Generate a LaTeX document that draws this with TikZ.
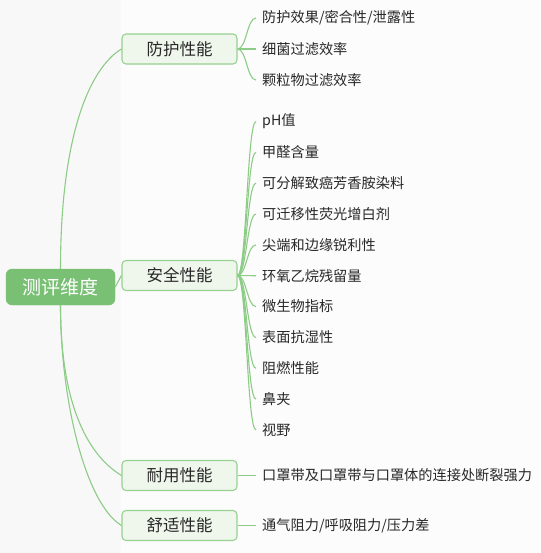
\documentclass[tikz,border=0pt]{standalone}
\usepackage{fontspec}
\setmainfont{Noto Sans CJK SC}
\usetikzlibrary{calc}
\definecolor{lineg}{RGB}{140,204,134}
\definecolor{rootg}{RGB}{121,192,117}
\definecolor{boxfill}{RGB}{239,247,236}
\definecolor{boxline}{RGB}{150,210,144}
\definecolor{txt}{RGB}{40,40,40}
\definecolor{bgL}{RGB}{248,248,248}
\definecolor{bgR}{RGB}{252,252,252}
\tikzset{
  rootbox/.style={fill=rootg, draw=rootg, rounded corners=6pt, minimum width=109pt, minimum height=36pt, inner sep=0pt, text=white, font=\fontsize{19}{22}\selectfont},
  branchbox/.style={fill=boxfill, draw=boxline, line width=1.1pt, rounded corners=4pt, minimum width=115pt, minimum height=30pt, inner sep=0pt, text=txt, font=\fontsize{16.5}{19}\selectfont},
  leaf/.style={anchor=west, inner xsep=6pt, inner ysep=0pt, text=txt, font=\fontsize{14.2}{17}\selectfont},
  conn/.style={draw=lineg, line width=1.1pt}
}
\begin{document}
\begin{tikzpicture}[x=1pt,y=-1pt]
\fill[bgL] (0,0) rectangle (121,553);
\fill[bgR] (121,0) rectangle (540,553);
\useasboundingbox (0,0) rectangle (540,553);

\node[rootbox] (root) at (60.5,287) {测评维度};
\node[branchbox] (b1) at (179.5,49) {防护性能};
\node[branchbox] (b2) at (179.5,275.5) {安全性能};
\node[branchbox] (b3) at (179.5,475.5) {耐用性能};
\node[branchbox] (b4) at (179.5,525.5) {舒适性能};

\draw[conn] (root.north) .. controls ($(root.north)+(0,-130)$) and ($(b1.west)+(-33,20)$) .. (b1.west);
\draw[conn] (root.east) -- (b2.west);
\draw[conn] (root.south) .. controls ($(root.south)+(0,95)$) and ($(b3.west)+(-36,-22)$) .. (b3.west);
\draw[conn] (root.south) .. controls ($(root.south)+(0,95)$) and ($(b4.west)+(-36,-22)$) .. (b4.west);

% protection leaves
\node[leaf] (a1) at (256,18) {防护效果/密合性/泄露性};
\node[leaf] (a2) at (256,49) {细菌过滤效率};
\node[leaf] (a3) at (256,80) {颗粒物过滤效率};
\foreach \n in {a1,a2,a3}{
  \draw[conn] (b1.east) .. controls ($(b1.east)+(9,0)$) and ($(\n.west)+(-9,0)$) .. (\n.west);
}

% safety leaves
\foreach \t [count=\i] in {pH值,甲醛含量,可分解致癌芳香胺染料,可迁移性荧光增白剂,尖端和边缘锐利性,环氧乙烷残留量,微生物指标,表面抗湿性,阻燃性能,鼻夹,视野}{
  \node[leaf] (s\i) at (256,{121.5+30.85*(\i-1)}) {\t};
  \draw[conn] (b2.east) .. controls ($(b2.east)+(9,0)$) and ($(s\i.west)+(-9,0)$) .. (s\i.west);
}

\node[leaf] (d1) at (256,475.5) {口罩带及口罩带与口罩体的连接处断裂强力};
\draw[conn] (b3.east) -- (d1.west);
\node[leaf] (c1) at (256,525.5) {通气阻力/呼吸阻力/压力差};
\draw[conn] (b4.east) -- (c1.west);
\end{tikzpicture}
\end{document}
